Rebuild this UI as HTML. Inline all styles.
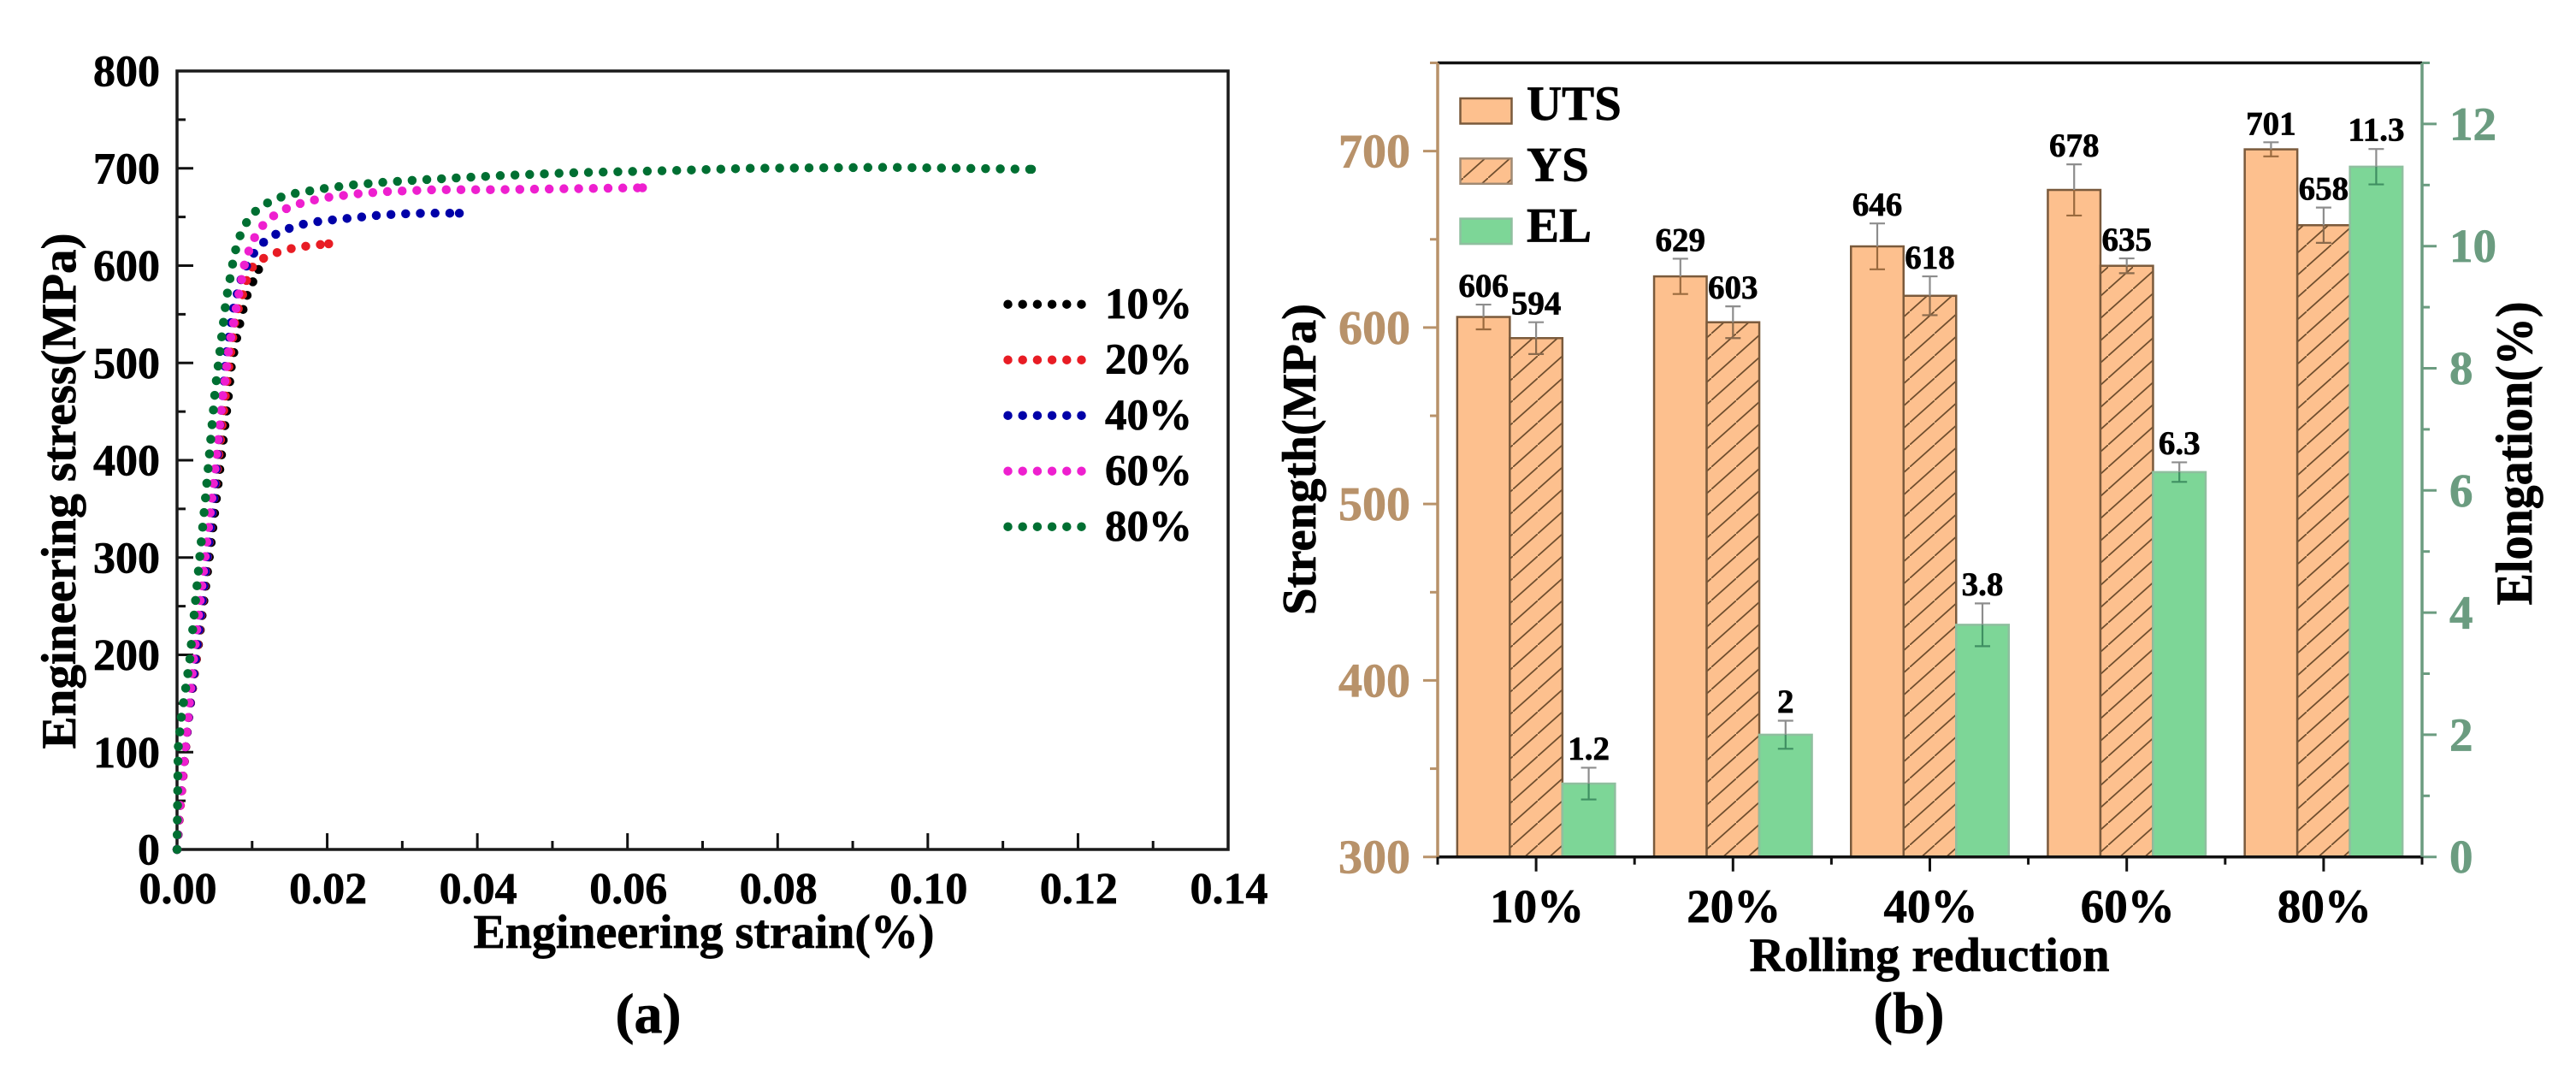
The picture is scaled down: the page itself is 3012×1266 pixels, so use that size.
<!DOCTYPE html>
<html lang="en">
<head>
<meta charset="utf-8">
<title>Engineering stress-strain curves and rolling reduction properties</title>
<style>
html,body{margin:0;padding:0;background:#fff;}
svg{display:block;}
text{font-family:"Liberation Serif","Times New Roman",serif;font-weight:700;stroke-width:.7;}
svg > text{stroke:#000;}
</style>
</head>
<body>
<svg id="figure" xmlns="http://www.w3.org/2000/svg" width="3012" height="1266" viewBox="0 0 3012 1266">
<defs>
<pattern id="hatch" patternUnits="userSpaceOnUse" width="29" height="26">
<rect width="29" height="26" fill="#fdc08e"/>
<path d="M-1.1,26.9 L30.1,-0.9" stroke="#6f4e2e" stroke-width="1.8" fill="none"/>
</pattern>
</defs>
<rect width="3012" height="1266" fill="#ffffff"/>
<g id="panelA"></g>
<g id="panelB"></g>
<text transform="translate(88,574) rotate(-90)" text-anchor="middle" font-size="57" textLength="603" lengthAdjust="spacingAndGlyphs">Engineering stress(MPa)</text>
<text x="823" y="1108" text-anchor="middle" font-size="56" textLength="539" lengthAdjust="spacingAndGlyphs">Engineering strain(%)</text>
<text x="758" y="1207" text-anchor="middle" font-size="66">(a)</text>
<text transform="translate(1538,537) rotate(-90)" text-anchor="middle" font-size="56" textLength="364" lengthAdjust="spacingAndGlyphs">Strength(MPa)</text>
<text transform="translate(2960,530) rotate(-90)" text-anchor="middle" font-size="60" textLength="355" lengthAdjust="spacingAndGlyphs">Elongation(%)</text>
<text x="2256" y="1135" text-anchor="middle" font-size="56" textLength="421" lengthAdjust="spacingAndGlyphs">Rolling reduction</text>
<text x="2232" y="1207" text-anchor="middle" font-size="68">(b)</text>
</svg>
<script>
// ---- Panel (a) data: engineering stress-strain curves ----
const strain10 = [0,.00034,.00148,.00281,.00452,.00566,.00698,.0071,.00744,.00782,.0082,.00866,.00915,.00995,.01086];
const stress10 = [0,41,132,208,314,388,475.6,490,505.8,520.7,535,550.6,566,581,596];
const strain20 = [0,.0004,.0015,.0026,.0053,.0066,.0077,.00824,.00888,.00938,.01033,.01227,.01428,.0162,.0182,.0202];
const stress20 = [0,41,132,198,385,478,541.8,558,573.4,588.7,602.5,610.6,616,619,621,622.4];
const strain40 = [0,.00034,.00148,.00243,.0049,.00604,.00623,.00653,.00744,.00843,.00915,.01025,.01177,.01356,.0155,.01746,.01944,.0233,.0272,.0312,.0351,.0376];
const stress40 = [0,41,132,192.7,359.6,464,479,507.5,553.6,583.7,598,613,626,634,640,643.8,646,649,652,653.6,654,653.8];
const strain60 = [0,.00015,.0013,.00224,.0047,.00615,.00642,.00687,.00794,.00908,.00983,.0107,.0121,.01405,.016,.018,.01993,.0238,.0277,.0343,.0421,.0519,.062];
const stress60 = [0,23,122,197.8,364.8,470,483,514,559,605,620.7,634.7,647.3,657,663,667,670,673.7,676,678,678,679,680];
const strain80 = [0,.00015,.00053,.00167,.00376,.00509,.00535,.00653,.00755,.00805,.0088,.0099,.01165,.01363,.01557,.01933,.0232,.0271,.0311,.0369,.0428,.0525,.065,.0762,.095,.1138];
const stress80 = [0,103.7,133.8,192.7,358.8,473,489,564,608,624,638.5,652.6,663,670,674,679,682.8,685.4,687.5,690,692.4,695.4,697.5,700,701,699];
const curveLabels = ['10%','20%','40%','60%','80%'];
const strainTicks = [0,.02,.04,.06,.08,.10,.12,.14];
const strainTickLabels = ['0.00','0.02','0.04','0.06','0.08','0.10','0.12','0.14'];
const stressTicks = [0,100,200,300,400,500,600,700,800];

// ---- Panel (b) data: properties vs rolling reduction ----
const reductions = ['10%','20%','40%','60%','80%'];
const utsValues = [606,629,646,678,701];
const ysValues = [594,603,618,635,658];
const elValues = [1.2,2,3.8,6.3,11.3];
const utsErrors = [7,10,13,14.5,4];
const ysErrors = [9,9,11,4.2,10];
const elErrors = [.26,.23,.35,.16,.29];
const utsLabels = ['606','629','646','678','701'];
const ysLabels = ['594','603','618','635','658'];
const elLabels = ['1.2','2','3.8','6.3','11.3'];
const strengthTicks = [300,400,500,600,700];
const elongationTicks = [0,2,4,6,8,10,12];
const legendBars = ['UTS','YS','EL'];

const SVGNS = 'http://www.w3.org/2000/svg';
const panelA = document.getElementById('panelA');
const panelB = document.getElementById('panelB');

function make(tag, parent) {
  const el = document.createElementNS(SVGNS, tag);
  parent.appendChild(el);
  return el;
}
function setLine(el, x1, y1, x2, y2, color, width) {
  el.setAttribute('x1', x1);
  el.setAttribute('y1', y1);
  el.setAttribute('x2', x2);
  el.setAttribute('y2', y2);
  el.setAttribute('stroke', color);
  el.setAttribute('stroke-width', width);
}
function setText(el, x, y, str, size, anchor, color) {
  el.setAttribute('x', x);
  el.setAttribute('y', y);
  el.setAttribute('font-size', size);
  el.setAttribute('text-anchor', anchor);
  el.setAttribute('fill', color);
  el.setAttribute('stroke', color);
  el.textContent = str;
}
function setRect(el, x, y, w, h, fill, stroke, sw) {
  el.setAttribute('x', x);
  el.setAttribute('y', y);
  el.setAttribute('width', w);
  el.setAttribute('height', h);
  el.setAttribute('fill', fill);
  el.setAttribute('stroke', stroke);
  el.setAttribute('stroke-width', sw);
}

// ---- Panel (a) axis functions ----
const aL = 207, aR = 1436, aT = 83, aB = 993;
const xA = v => aL + (v / 0.14) * (aR - aL);
const yA = v => aB - (v / 800) * (aB - aT);
const curveColors = ['#000000','#e81c24','#0000a8','#ee1fcf','#006f32'];
const strainSeries = [strain10, strain20, strain40, strain60, strain80];
const stressSeries = [stress10, stress20, stress40, stress60, stress80];

// minor and major ticks for panel (a)
for (let i = 0; i <= 14; i++) {
  const major = i % 2 === 0;
  const px = xA(i * 0.01);
  const t = make('line', panelA);
  setLine(t, px, aB, px, aB - (major ? 19 : 10), '#111', 3);
  
  
}
for (let i = 0; i <= 16; i++) {
  const major = i % 2 === 0;
  const py = yA(i * 50);
  const t = make('line', panelA);
  setLine(t, aL, py, aL + (major ? 19 : 10), py, '#111', 3);
  
  
}
strainTicks.forEach((v, i) => {
  const t = make('text', panelA);
  setText(t, xA(v) + 1, 1056, strainTickLabels[i], 52, 'middle', '#000');
  
  
});
stressTicks.forEach(v => {
  const t = make('text', panelA);
  setText(t, 187, yA(v) + 17.5, String(v), 52, 'end', '#000');
  
  
});
const frameA = make('rect', panelA);
setRect(frameA, aL, aT, aR - aL, aB - aT, 'none', '#1a1a1a', 3.5);



strainSeries.forEach((xs, s) => {
  const p = make('path', panelA);
  const d = xs.map((v, i) => (i ? 'L' : 'M') + xA(v).toFixed(2) + ',' + yA(stressSeries[s][i]).toFixed(2)).join(' ');
  p.setAttribute('d', d);
  p.setAttribute('fill', 'none');
  p.setAttribute('stroke', curveColors[s]);
  p.setAttribute('stroke-width', '10.5');
  p.setAttribute('stroke-linecap', 'round');
  p.setAttribute('stroke-dasharray', '0 17.2');
  
  
  const last = xs.length - 1;
  const endDot = make('circle', panelA);
  endDot.setAttribute('cx', xA(xs[last]));
  endDot.setAttribute('cy', yA(stressSeries[s][last]));
  endDot.setAttribute('r', '5.25');
  endDot.setAttribute('fill', curveColors[s]);
  
  
});

curveLabels.forEach((lab, i) => {
  const ly = 355.7 + i * 65;
  const l = make('line', panelA);
  setLine(l, 1178.5, ly, 1265, ly, curveColors[i], 10.5);
  l.setAttribute('stroke-linecap', 'round');
  l.setAttribute('stroke-dasharray', '0 17.2');
  
  
  const t = make('text', panelA);
  setText(t, 1292, 372 + i * 65, lab, 51, 'start', '#000');
  
  
});

// ---- Panel (b) axis functions ----
const bL = 1681, bR = 2832, bT = 73.5, bB = 1001.7;
const band = (bR - bL) / reductions.length;
const barW = 61.5;
const xCat = i => bL + (i + 0.5) * band;
const yStrength = v => bB - ((v - 300) / 450) * (bB - bT);
const yElong = v => bB - (v / 13) * (bB - bT);
const brown = '#7a5a3c';
const tan = '#b8926a';
const sage = '#6b9c80';

function drawBar(i, offset, top, fill, stroke, name) {
  const r = make('rect', panelB);
  setRect(r, xCat(i) + offset * barW - barW / 2, top, barW, bB - top, fill, stroke, 2.5);
  
  
}
reductions.forEach((c, i) => {
  drawBar(i, -1, yStrength(utsValues[i]), '#fdc08e', brown, 'uts-bar');
  drawBar(i, 0, yStrength(ysValues[i]), 'url(#hatch)', brown, 'ys-bar');
  drawBar(i, 1, yElong(elValues[i]), '#7dd697', '#8fbf9f', 'el-bar');
});

function drawError(cx, top, mid, bottom, upperColor, lowerColor) {
  const up = make('line', panelB);
  setLine(up, cx, top, cx, mid, upperColor, 2.2);
  
  
  const low = make('line', panelB);
  setLine(low, cx, mid, cx, bottom, lowerColor, 2.2);
  
  
  const capTop = make('line', panelB);
  setLine(capTop, cx - 9, top, cx + 9, top, upperColor, 2.2);
  
  
  const capLow = make('line', panelB);
  setLine(capLow, cx - 9, bottom, cx + 9, bottom, lowerColor, 2.2);
  
  
}
function drawValueLabel(cx, y, str) {
  const t = make('text', panelB);
  setText(t, cx, y, str, 39, 'middle', '#000');
  
  
}
reductions.forEach((c, i) => {
  const cx = xCat(i);
  const u = yStrength(utsValues[i]);
  const uTop = yStrength(utsValues[i] + utsErrors[i]);
  const uLow = yStrength(utsValues[i] - utsErrors[i]);
  drawError(cx - barW, uTop, u, uLow, '#8d8d8d', '#9a6a3e');
  drawValueLabel(cx - barW, uTop - 9, utsLabels[i]);
  const y = yStrength(ysValues[i]);
  const yTop = yStrength(ysValues[i] + ysErrors[i]);
  const yLow = yStrength(ysValues[i] - ysErrors[i]);
  drawError(cx, yTop, y, yLow, '#8d8d8d', '#8a6a4c');
  drawValueLabel(cx, yTop - 9, ysLabels[i]);
  const e = yElong(elValues[i]);
  const eTop = yElong(elValues[i] + elErrors[i]);
  const eLow = yElong(elValues[i] - elErrors[i]);
  drawError(cx + barW, eTop, e, eLow, '#8d8d8d', '#3f8f62');
  drawValueLabel(cx + barW, eTop - 9.5, elLabels[i]);
});

// axes of panel (b)
const topAxis = make('line', panelB);
setLine(topAxis, bL, bT, bR, bT, '#111', 3.5);


const bottomAxis = make('line', panelB);
setLine(bottomAxis, bL - 1, bB, bR + 1, bB, '#111', 3.5);


const leftAxis = make('line', panelB);
setLine(leftAxis, bL, bT, bL, bB, tan, 3.5);


const rightAxis = make('line', panelB);
setLine(rightAxis, bR, bT, bR, bB, sage, 3.5);



for (let i = 0; i <= 9; i++) {
  const v = 300 + i * 50;
  const major = i % 2 === 0 && i < 9;
  const t = make('line', panelB);
  setLine(t, bL, yStrength(v), bL - (major ? 17 : 9), yStrength(v), tan, 3);
  
  
}
for (let v = 0; v <= 13; v++) {
  const major = v % 2 === 0;
  const t = make('line', panelB);
  setLine(t, bR, yElong(v), bR + (major ? 17 : 9), yElong(v), sage, 3);
  
  
}
for (let i = 0; i <= 10; i++) {
  const major = i % 2 === 1;
  const px = bL + i * band / 2;
  const t = make('line', panelB);
  setLine(t, px, bB, px, bB + (major ? 17 : 9), '#111', 3);
  
  
}
strengthTicks.forEach(v => {
  const t = make('text', panelB);
  setText(t, 1649, yStrength(v) + 19, String(v), 56, 'end', tan);
  
  
});
elongationTicks.forEach(v => {
  const t = make('text', panelB);
  setText(t, 2864, yElong(v) + 18.5, String(v), 55, 'start', sage);
  
  
});
reductions.forEach((c, i) => {
  const t = make('text', panelB);
  setText(t, xCat(i) + 1, 1078, c, 55, 'middle', '#000');
  
  
});

// legend of panel (b)
const legendFills = ['#fdc08e', 'url(#hatch)', '#7dd697'];
const legendStrokes = [brown, '#a08a74', '#8fbf9f'];
legendBars.forEach((lab, i) => {
  const sw = make('rect', panelB);
  setRect(sw, 1707.5, 115 + i * 70.3, 60, 29.5, legendFills[i], legendStrokes[i], 2.5);
  
  
  const t = make('text', panelB);
  setText(t, 1785, 140 + i * 71.3, lab, 57, 'start', '#000');
  
  
});
</script>
</body>
</html>
